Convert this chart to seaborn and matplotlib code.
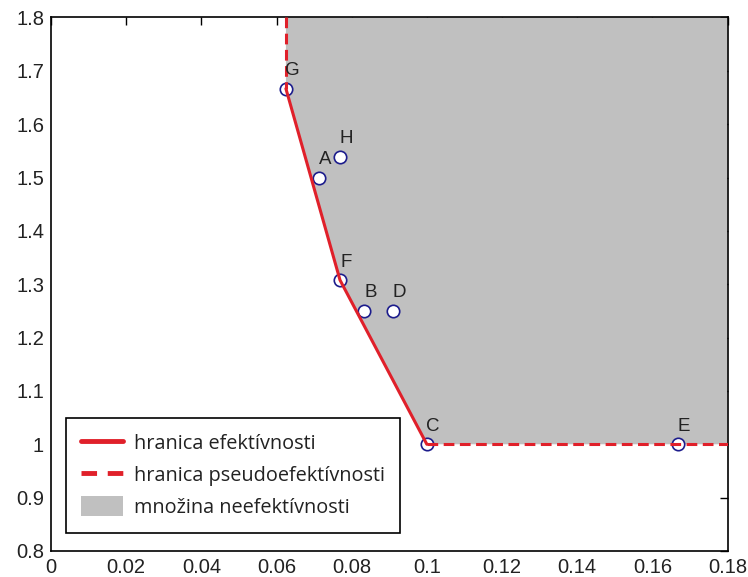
import matplotlib
matplotlib.use("Agg")
import matplotlib.pyplot as plt
from matplotlib.lines import Line2D
from matplotlib.patches import Patch
import seaborn as sns
import pandas as pd

# Units (DMU) in the plane of input/output ratios
units = ["A", "B", "C", "D", "E", "F", "G", "H"]
x_vals = [0.0714, 0.0833, 0.1000, 0.0909, 0.1667, 0.0769, 0.0625, 0.0769]
y_vals = [1.5000, 1.2500, 1.0000, 1.2500, 1.0000, 1.3077, 1.6667, 1.5385]

# Efficient frontier G -> F -> C and the pseudo-efficient extensions
frontier_units = ["G", "F", "C"]
x_min, x_max = 0.0, 0.18
y_min, y_max = 0.8, 1.8
x_ticks = [0, 0.02, 0.04, 0.06, 0.08, 0.1, 0.12, 0.14, 0.16, 0.18]
x_tick_labels = ["0", "0.02", "0.04", "0.06", "0.08", "0.1", "0.12", "0.14", "0.16", "0.18"]
y_ticks = [0.8, 0.9, 1.0, 1.1, 1.2, 1.3, 1.4, 1.5, 1.6, 1.7, 1.8]
y_tick_labels = ["0.8", "0.9", "1", "1.1", "1.2", "1.3", "1.4", "1.5", "1.6", "1.7", "1.8"]

legend_labels = ["hranica efektívnosti", "hranica pseudoefektívnosti", "množina neefektívnosti"]

df = pd.DataFrame({"unit": units, "x": x_vals, "y": y_vals})
pos = df.set_index("unit")

sns.set_style("white")
plt.rcParams["font.family"] = ["Liberation Sans", "DejaVu Sans"]

RED = "#e0202a"
GREY = "#c0c0c0"
NAVY = "#1c1c8c"

fig = plt.figure(figsize=(7.48, 5.77), dpi=100)
ax = fig.add_axes([0.0682, 0.0451, 0.9044, 0.9246])

fx = [pos.loc[u, "x"] for u in frontier_units]
fy = [pos.loc[u, "y"] for u in frontier_units]

# Region of inefficiency (above/right of the frontier)
poly_x = [fx[0]] + fx + [x_max, x_max]
poly_y = [y_max] + fy + [fy[-1], y_max]
ax.fill(poly_x, poly_y, color=GREY, lw=0, zorder=1)

# Unit markers
sns.scatterplot(data=df, x="x", y="y", ax=ax, s=80, marker="o",
                facecolor="white", edgecolor=NAVY, linewidth=1.2,
                zorder=3, legend=False)

# Frontier lines
sns.lineplot(x=fx, y=fy, ax=ax, sort=False, estimator=None,
             color=RED, lw=2.2, zorder=4)
sns.lineplot(x=[fx[0], fx[0]], y=[y_max, fy[0]], ax=ax, sort=False, estimator=None,
             color=RED, lw=2.2, dashes=(3.5, 1.8), zorder=4)
sns.lineplot(x=[fx[-1], x_max], y=[fy[-1], fy[-1]], ax=ax, sort=False, estimator=None,
             color=RED, lw=2.2, dashes=(3.5, 1.8), zorder=4)

# Unit labels
for u, xv, yv in zip(units, x_vals, y_vals):
    ax.annotate(u, (xv, yv), xytext=(4.5, 13), textcoords="offset points",
                ha="center", va="center", fontsize=13.5, color="#222222", zorder=5)

ax.set_xlim(x_min, x_max)
ax.set_ylim(y_min, y_max)
ax.set_xticks(x_ticks)
ax.set_xticklabels(x_tick_labels)
ax.set_yticks(y_ticks)
ax.set_yticklabels(y_tick_labels)
ax.set_xlabel("")
ax.set_ylabel("")
ax.tick_params(direction="in", top=True, right=True, length=6, width=1,
               labelsize=14.5, colors="black", labelcolor="#222222", pad=5)
for sp in ax.spines.values():
    sp.set_visible(True)
    sp.set_color("black")
    sp.set_linewidth(1.2)

handles = [
    Line2D([0], [0], color=RED, lw=3.5),
    Line2D([0], [0], color=RED, lw=3.5, dashes=(3.2, 2.2)),
    Patch(facecolor=GREY, edgecolor="none"),
]
leg = ax.legend(handles, legend_labels, loc="lower left",
                bbox_to_anchor=(0.022, 0.034), borderaxespad=0,
                frameon=True, fancybox=False, framealpha=1,
                edgecolor="black", handlelength=2.1, handleheight=1.2,
                handletextpad=0.6, labelspacing=0.5, borderpad=0.75,
                prop={"family": ["Open Sans", "DejaVu Sans"], "size": 14.3})
leg.get_frame().set_linewidth(1.2)
for t in leg.get_texts():
    t.set_color("#222222")
leg.set_zorder(6)

fig.savefig("out.png", dpi=100)
